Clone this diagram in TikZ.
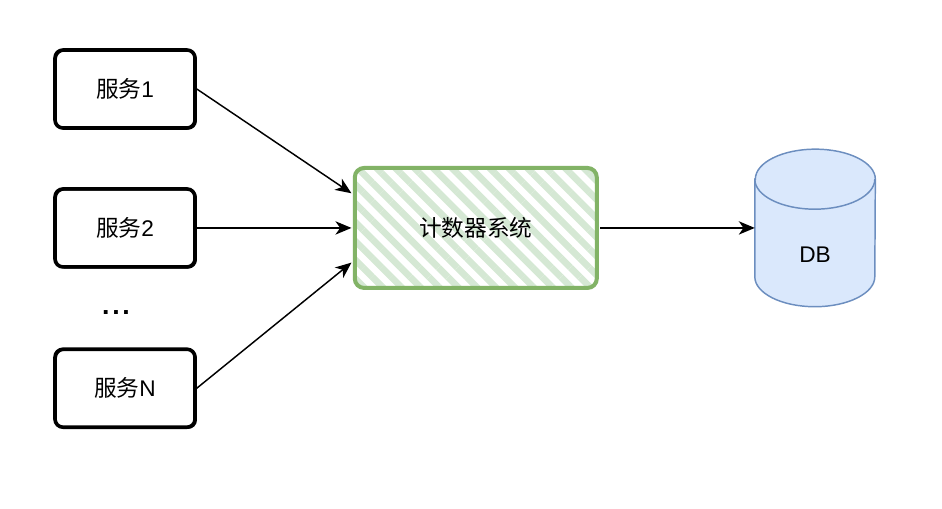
\documentclass[tikz,border=0pt]{standalone}
\usepackage{fontspec}
\setmainfont{Liberation Sans}
\newfontfamily\cjk{Noto Sans CJK SC}
\usetikzlibrary{
    arrows.meta, positioning, patterns.meta
}
\definecolor{hatchgreen}{HTML}{D5E8D4}
\definecolor{edgegreen}{HTML}{82B366}
\definecolor{dbfill}{HTML}{DAE8FC}
\definecolor{dbedge}{HTML}{6C8EBF}
\tikzset{
  svc/.style={rectangle, draw, line width=2.7pt, rounded corners=6pt,
              minimum width=105pt, minimum height=58.5pt,
              postaction={draw, line width=1pt, rounded corners=6pt,
                          transform canvas={shift={(0.9pt,-0.7pt)}}},
              font=\fontsize{17}{20}\selectfont},
  counter/.style={rectangle, draw=edgegreen, line width=3pt, rounded corners=7pt,
                  minimum width=181.5pt, minimum height=90pt,
                  pattern={Lines[angle=-45, distance=10pt, line width=5pt]},
                  pattern color=hatchgreen,
                  font=\fontsize{17}{20}\selectfont},
  store/.style={rectangle, minimum width=90pt, minimum height=117.75pt, inner sep=0pt},
  dbshape/.style={draw=dbedge, fill=dbfill, line width=1.1pt},
  dots/.style={inner sep=0pt, font=\fontsize{20}{24}\selectfont\bfseries},
  arr/.style={-{Stealth[length=12pt, width=10pt, inset=3.5pt]}, line width=1.1pt},
}

\begin{document}
\begin{tikzpicture}[x=0.75pt, y=-0.75pt]
  \useasboundingbox (0,0) rectangle (942,508);
  % services
  \node[svc] (s1) at (125,89) {{\cjk 服务}1};
  \node[svc, below=43pt of s1] (s2) {{\cjk 服务}2};
  \node[svc, below=59pt of s2] (sN) {{\cjk 服务}N};
  \node[dots] (more) at (116,313) {.\hspace{2pt}.\hspace{2pt}.};
  % counter + storage
  \node[counter, right=116pt of s2] (ctr) {\cjk 计数器系统};
  \node[store, right=116pt of ctr] (db) {};
  \path[dbshape] ([yshift=-22.5pt]db.north west) -- ([yshift=22.5pt]db.south west)
    arc[start angle=180, end angle=360, x radius=45pt, y radius=22.5pt]
    -- ([yshift=-22.5pt]db.north east)
    arc[start angle=0, end angle=180, x radius=45pt, y radius=22.5pt] -- cycle;
  \draw[draw=dbedge, line width=1.1pt] ([yshift=-22.5pt]db.north west)
    arc[start angle=180, end angle=360, x radius=45pt, y radius=22.5pt];
  \node[font=\fontsize{17}{20}\selectfont] (dblabel) at ([yshift=-20pt]db.center) {DB};
  % connectors
  \draw[arr] (s1.east) -- ([yshift=26pt]ctr.west);
  \draw[arr] (s2.east) -- (ctr.west);
  \draw[arr] (sN.east) -- ([yshift=-26pt]ctr.west);
  \draw[arr] (ctr.east) -- (db.west);
\end{tikzpicture}
\end{document}
